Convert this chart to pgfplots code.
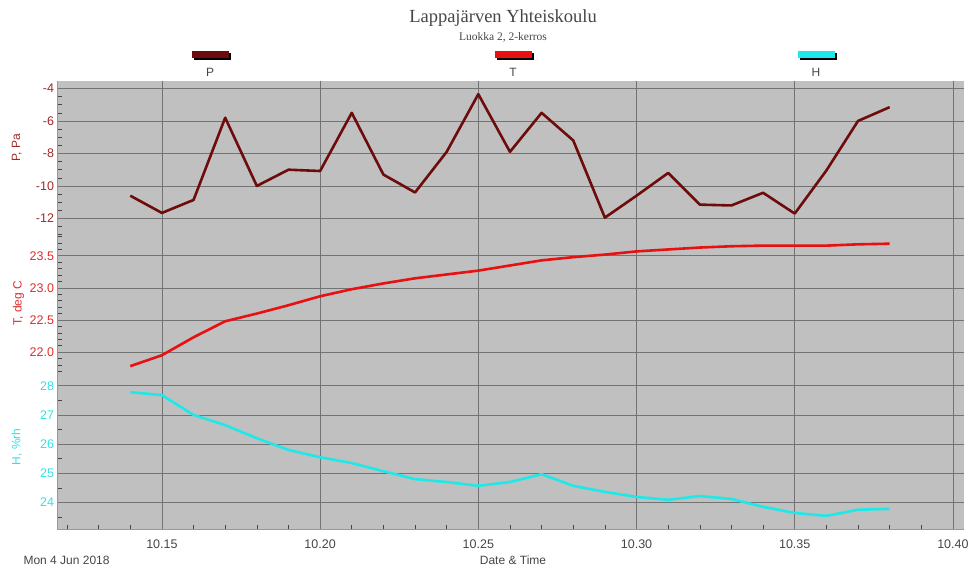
\documentclass[border=0pt]{standalone}
\usepackage{pgfplots}
\pgfplotsset{compat=1.18}
\usepackage{fontspec}
\setmainfont{Liberation Sans}
\newfontfamily\seriffont{Liberation Serif}
\definecolor{bg}{RGB}{192,192,192}
\definecolor{gridc}{RGB}{115,115,115}
\definecolor{pcol}{RGB}{110,12,12}
\definecolor{plab}{RGB}{165,40,40}
\definecolor{tcol}{RGB}{232,16,16}
\definecolor{tlab}{RGB}{225,45,45}
\definecolor{hcol}{RGB}{30,232,232}
\definecolor{hlab}{RGB}{50,225,230}
\definecolor{txt}{RGB}{70,70,70}
\pgfplotsset{
 pane/.style={
  scale only axis, width=906.5pt, xmin=10.117, xmax=10.4035,
  anchor=south west,
  axis background/.style={fill=bg},
  axis x line*=bottom, axis y line*=left,
  axis line style={draw=gray!80, line width=0.8pt},
  xtick={10.15,10.20,10.25,10.30,10.35,10.40},
  xmajorgrids, ymajorgrids,
  major grid style={draw=gridc, line width=0.8pt},
  tick align=inside,
  tick label style={font=\fontsize{12.5}{14}\selectfont},
  /pgf/number format/assume math mode=true,
  minor tick length=4pt, major tick length=0pt,
  tick style={draw=gray!55!black, line width=0.6pt},
  every axis plot/.append style={line width=2.6pt, line join=round, no markers},
  ylabel style={at={(axis description cs:-0.045,0.5)}, anchor=center, font=\fontsize{12}{14}\selectfont},
 },
 upper/.style={
  xticklabels={}, x axis line style={draw=none}, xtick style={draw=none},
 }
}
\begin{document}
\begin{tikzpicture}
\useasboundingbox (0pt,0pt) rectangle (971pt,568pt);
% P pane
\begin{axis}[pane, upper, at={(57.5pt,332pt)}, height=155pt,
  ymin=-13.08, ymax=-3.54,
  ytick={-12,-10,-8,-6,-4},
  minor ytick={-13,-12.5,-11.5,-11,-10.5,-9.5,-9,-8.5,-7.5,-7,-6.5,-5.5,-5,-4.5},
  yticklabel style={text=plab},
  ylabel={P, Pa}, ylabel style={text=plab, at={(axis description cs:-0.045,0.568)}}]
\addplot[pcol] coordinates {
(10.14,-10.6) (10.15,-11.66) (10.16,-10.86) (10.17,-5.8) (10.18,-10.0)
(10.19,-9.0) (10.20,-9.08) (10.21,-5.5) (10.22,-9.3) (10.23,-10.4)
(10.24,-7.9) (10.25,-4.35) (10.26,-7.9) (10.27,-5.5) (10.28,-7.2)
(10.29,-11.95) (10.30,-10.6) (10.31,-9.2) (10.32,-11.15) (10.33,-11.2)
(10.34,-10.42) (10.35,-11.7) (10.36,-9.05) (10.37,-6.0) (10.38,-5.15)};
\end{axis}
% T pane
\begin{axis}[pane, upper, at={(57.5pt,198pt)}, height=134pt,
  ymin=21.72, ymax=23.81,
  ytick={22.0,22.5,23.0,23.5},
  minor ytick={21.8,21.9,22.1,22.2,22.3,22.4,22.6,22.7,22.8,22.9,23.1,23.2,23.3,23.4,23.6,23.7,23.8},
  yticklabel style={text=tlab, /pgf/number format/.cd, fixed, fixed zerofill, precision=1},
  ylabel={T, deg C}, ylabel style={text=tlab, at={(axis description cs:-0.043,0.5)}}]
\addplot[tcol] coordinates {
(10.14,21.78) (10.15,21.95) (10.16,22.23) (10.17,22.48) (10.18,22.60)
(10.19,22.73) (10.20,22.87) (10.21,22.98) (10.22,23.07) (10.23,23.15)
(10.24,23.21) (10.25,23.27) (10.26,23.35) (10.27,23.43) (10.28,23.48)
(10.29,23.52) (10.30,23.57) (10.31,23.60) (10.32,23.63) (10.33,23.65)
(10.34,23.66) (10.35,23.66) (10.36,23.66) (10.37,23.68) (10.38,23.69)};
\end{axis}
% H pane
\begin{axis}[pane, at={(57.5pt,39pt)}, height=159pt,
  ymin=23.09, ymax=28.54,
  ytick={24,25,26,27,28},
  minor ytick={23.5,24.5,25.5,26.5,27.5,28.5},
  minor xtick={10.12,10.13,10.14,10.16,10.17,10.18,10.19,10.21,10.22,10.23,10.24,10.26,10.27,10.28,10.29,10.31,10.32,10.33,10.34,10.36,10.37,10.38,10.39},
  yticklabel style={text=hlab},
  xticklabel style={text=txt, yshift=-7pt, /pgf/number format/.cd, fixed, fixed zerofill, precision=2},
  ylabel={H, \%rh}, ylabel style={text=hlab, at={(axis description cs:-0.045,0.516)}}]
\addplot[hcol] coordinates {
(10.14,27.78) (10.15,27.68) (10.16,27.0) (10.17,26.65) (10.18,26.2)
(10.19,25.8) (10.20,25.55) (10.21,25.35) (10.22,25.07) (10.23,24.8)
(10.24,24.7) (10.25,24.57) (10.26,24.7) (10.27,24.97) (10.28,24.57)
(10.29,24.36) (10.30,24.19) (10.31,24.09) (10.32,24.22) (10.33,24.12)
(10.34,23.85) (10.35,23.64) (10.36,23.54) (10.37,23.75) (10.38,23.78)};
\end{axis}
% titles
\node[text=txt, font=\seriffont\fontsize{18.5}{20}\selectfont] at (503pt,550pt) {Lappajärven Yhteiskoulu};
\node[text=txt, font=\seriffont\fontsize{11.5}{13}\selectfont] at (503pt,531pt) {Luokka 2, 2-kerros};
% legend
\foreach \cx/\col/\lab in {211/pcol/P, 514/tcol/T, 817/hcol/H}{
  \fill[black] (\cx pt-17pt,507.5pt) rectangle (\cx pt+20pt,514.5pt);
  \fill[\col] (\cx pt-19pt,509.5pt) rectangle (\cx pt+18pt,516.5pt);
  \node[text=txt, font=\fontsize{12}{14}\selectfont] at (\cx pt-1pt,496pt) {\lab};
}
% bottom texts
\node[text=txt, anchor=west, font=\fontsize{12}{14}\selectfont] at (20pt,8pt) {Mon 4 Jun 2018};
\node[text=txt, font=\fontsize{12}{14}\selectfont] at (513pt,8pt) {Date \& Time};
\end{tikzpicture}
\end{document}
